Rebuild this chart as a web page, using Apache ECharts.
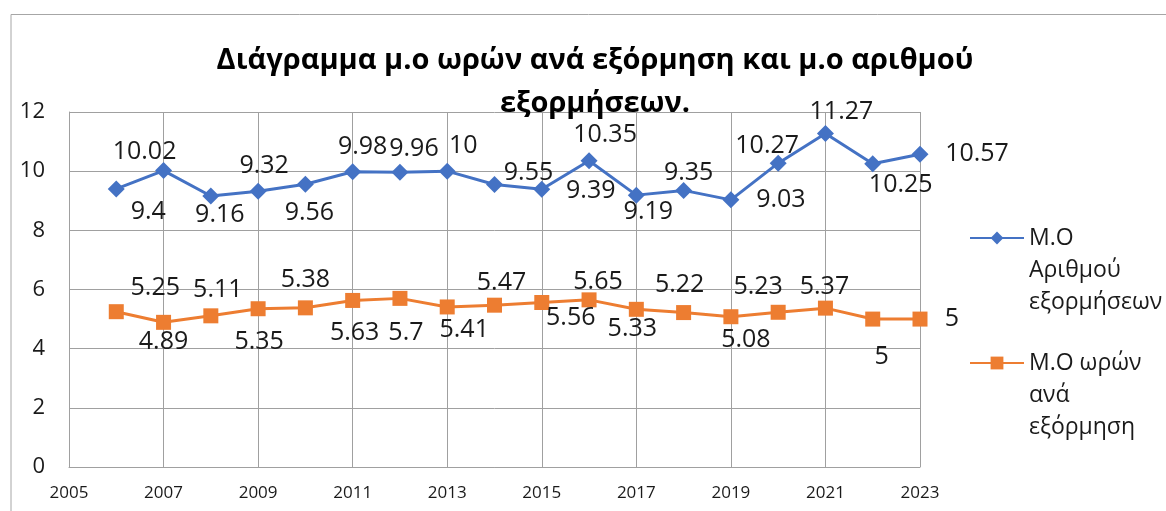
<!DOCTYPE html>
<html>
<head>
<meta charset="utf-8">
<style>
  html, body { margin: 0; padding: 0; background: #fff; }
  #chart { width: 1166px; height: 511px; }
</style>
<script src="https://cdn.jsdelivr.net/npm/echarts@6/dist/echarts.min.js"></script>
</head>
<body>
<div id="chart"></div>
<script>
// values
const years = [2006, 2007, 2008, 2009, 2010, 2011, 2012, 2013, 2014, 2015, 2016, 2017, 2018, 2019, 2020, 2021, 2022, 2023];
const avgTrips = [9.4, 10.02, 9.16, 9.32, 9.56, 9.98, 9.96, 10, 9.55, 9.39, 10.35, 9.19, 9.35, 9.03, 10.27, 11.27, 10.25, 10.57];
const avgHours = [5.25, 4.89, 5.11, 5.35, 5.38, 5.63, 5.7, 5.41, 5.47, 5.56, 5.65, 5.33, 5.22, 5.08, 5.23, 5.37, 5, 5];
const seriesNames = ["Μ.Ο Αριθμού εξορμήσεων", "Μ.Ο ωρών ανά εξόρμηση"];
const legendLabels = ["Μ.Ο\nΑριθμού\nεξορμήσεων", "Μ.Ο ωρών\nανά\nεξόρμηση"];
const titleText = "Διάγραμμα μ.ο ωρών ανά εξόρμηση και μ.ο αριθμού\nεξορμήσεων.";

// where each data label sits relative to its point (px)
const tripsLabelShift = [[32, 23], [-19, -19], [9, 19], [6, -25], [4, 29], [10, -25], [14, -23], [16, -25], [34, -12],
  [49, 2], [16, -26], [12, 17], [5, -18], [50, 0], [-11, -17], [16, -22], [28, 21], [57, 0]];
const hoursLabelShift = [[39, -24], [0, 20], [7, -26], [1, 33], [0, -28], [2, 32], [6, 34], [17, 23], [7, -22],
  [29, 15], [9, -18], [-4, 20], [-4, -28], [15, 23], [-20, -25], [-1, -21], [9, 38], [32, 0]];

const FONT = "Open Sans";

function buildData(values, shifts) {
  return years.map((y, i) => ({
    value: [y, values[i]],
    label: { offset: shifts[i] }
  }));
}

function lineSeries(name, values, shifts, color, symbol, size) {
  return {
    name: name,
    type: "line",
    data: buildData(values, shifts),
    symbol: symbol,
    symbolSize: size,
    color: color,
    lineStyle: { color: color, width: 3 },
    itemStyle: { color: color },
    label: {
      show: true,
      position: "inside",
      align: "center",
      verticalAlign: "middle",
      fontFamily: FONT,
      fontSize: 25,
      color: "#1a1a1a",
      formatter: p => String(p.value[1])
    },
    animation: false
  };
}

const chart = echarts.init(document.getElementById("chart"));
chart.setOption({
  backgroundColor: "#fff",
  title: {
    text: titleText,
    left: 590,
    top: 34,
    textAlign: "center",
    textStyle: {
      fontFamily: FONT,
      fontWeight: "bold",
      fontSize: 29,
      lineHeight: 43,
      color: "#000"
    }
  },
  // two blank lines on top keep the marker level with the first text line
  legend: [0, 1].map(i => ({
    data: [seriesNames[i]],
    orient: "vertical",
    left: 964,
    top: i === 0 ? 153 : 278,
    itemWidth: 54,
    itemHeight: 16,
    itemGap: 0,
    formatter: () => "\n\n" + legendLabels[i],
    textStyle: {
      fontFamily: FONT,
      fontSize: 23,
      lineHeight: 32,
      color: "#1a1a1a"
    }
  })),
  grid: { left: 69, right: 246, top: 112, bottom: 44 },
  xAxis: {
    type: "value",
    min: 2005,
    max: 2023,
    interval: 2,
    axisLine: { show: true, lineStyle: { color: "#a0a0a0", width: 1 } },
    axisTick: { show: false },
    splitLine: { show: true, lineStyle: { color: "#a0a0a0", width: 1 } },
    axisLabel: {
      fontFamily: FONT,
      fontSize: 17,
      color: "#1a1a1a",
      margin: 18,
      formatter: v => String(v)
    }
  },
  yAxis: {
    type: "value",
    min: 0,
    max: 12,
    interval: 2,
    axisLine: { show: true, lineStyle: { color: "#a0a0a0", width: 1 } },
    axisTick: { show: false },
    splitLine: { show: true, lineStyle: { color: "#a0a0a0", width: 1 } },
    axisLabel: {
      fontFamily: FONT,
      fontSize: 22,
      color: "#1a1a1a",
      margin: 24
    }
  },
  graphic: [{
    type: "polyline",
    shape: { points: [[11, 511], [11, 14.5], [1166, 14.5]] },
    style: { stroke: "#a6a6a6", lineWidth: 1, fill: null },
    silent: true
  }],
  series: [
    lineSeries(seriesNames[0], avgTrips, tripsLabelShift, "#4472C4", "diamond", 17),
    lineSeries(seriesNames[1], avgHours, hoursLabelShift, "#ED7D31", "rect", 15)
  ]
});
</script>
</body>
</html>
